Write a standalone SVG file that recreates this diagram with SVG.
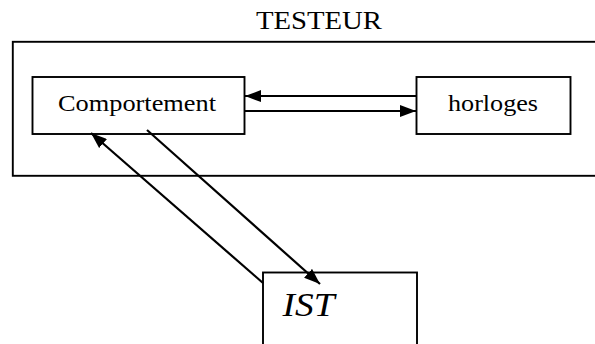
<svg xmlns="http://www.w3.org/2000/svg" width="595" height="344" viewBox="0 0 595 344">
  <style>
    .box { fill: #ffffff; stroke: #000000; stroke-width: 1.9; }
    .lbl { font-family: "Liberation Serif", "Times New Roman", serif; fill: #000000; }
    .link { stroke: #000000; stroke-width: 2.2; fill: none; marker-end: url(#head); }
  </style>
  <defs>
    <marker id="head" markerUnits="userSpaceOnUse" markerWidth="16" markerHeight="12" refX="16" refY="6" orient="auto">
      <path d="M0,0 L16,6 L0,12 z" fill="#000000"/>
    </marker>
  </defs>
  <rect width="595" height="344" fill="#ffffff"/>

  <!-- Tester enclosure -->
  <g id="testeur">
    <text class="lbl" x="256" y="29.3" font-size="25" textLength="126" lengthAdjust="spacingAndGlyphs">TESTEUR</text>
    <rect class="box" x="12.8" y="41.8" width="600" height="134"/>
  </g>

  <g id="comportement">
    <rect class="box" x="32.5" y="77" width="212" height="57"/>
    <text class="lbl" x="58" y="110.7" font-size="24" textLength="158" lengthAdjust="spacingAndGlyphs">Comportement</text>
  </g>

  <g id="horloges">
    <rect class="box" x="416.5" y="77" width="154" height="57"/>
    <text class="lbl" x="448" y="110.7" font-size="24" textLength="90" lengthAdjust="spacingAndGlyphs">horloges</text>
  </g>

  <g id="ist">
    <rect class="box" x="263" y="272.5" width="154" height="100"/>
    <text class="lbl" x="282.5" y="315.7" font-size="34" font-style="italic" textLength="52" lengthAdjust="spacingAndGlyphs">IST</text>
  </g>

  <g id="connectors">
    <line class="link" x1="416" y1="96" x2="245" y2="96"/>
    <line class="link" x1="245" y1="111" x2="416" y2="111"/>
    <line class="link" x1="263" y1="283" x2="91" y2="133"/>
    <line class="link" x1="147" y1="130" x2="320" y2="284"/>
  </g>
</svg>
